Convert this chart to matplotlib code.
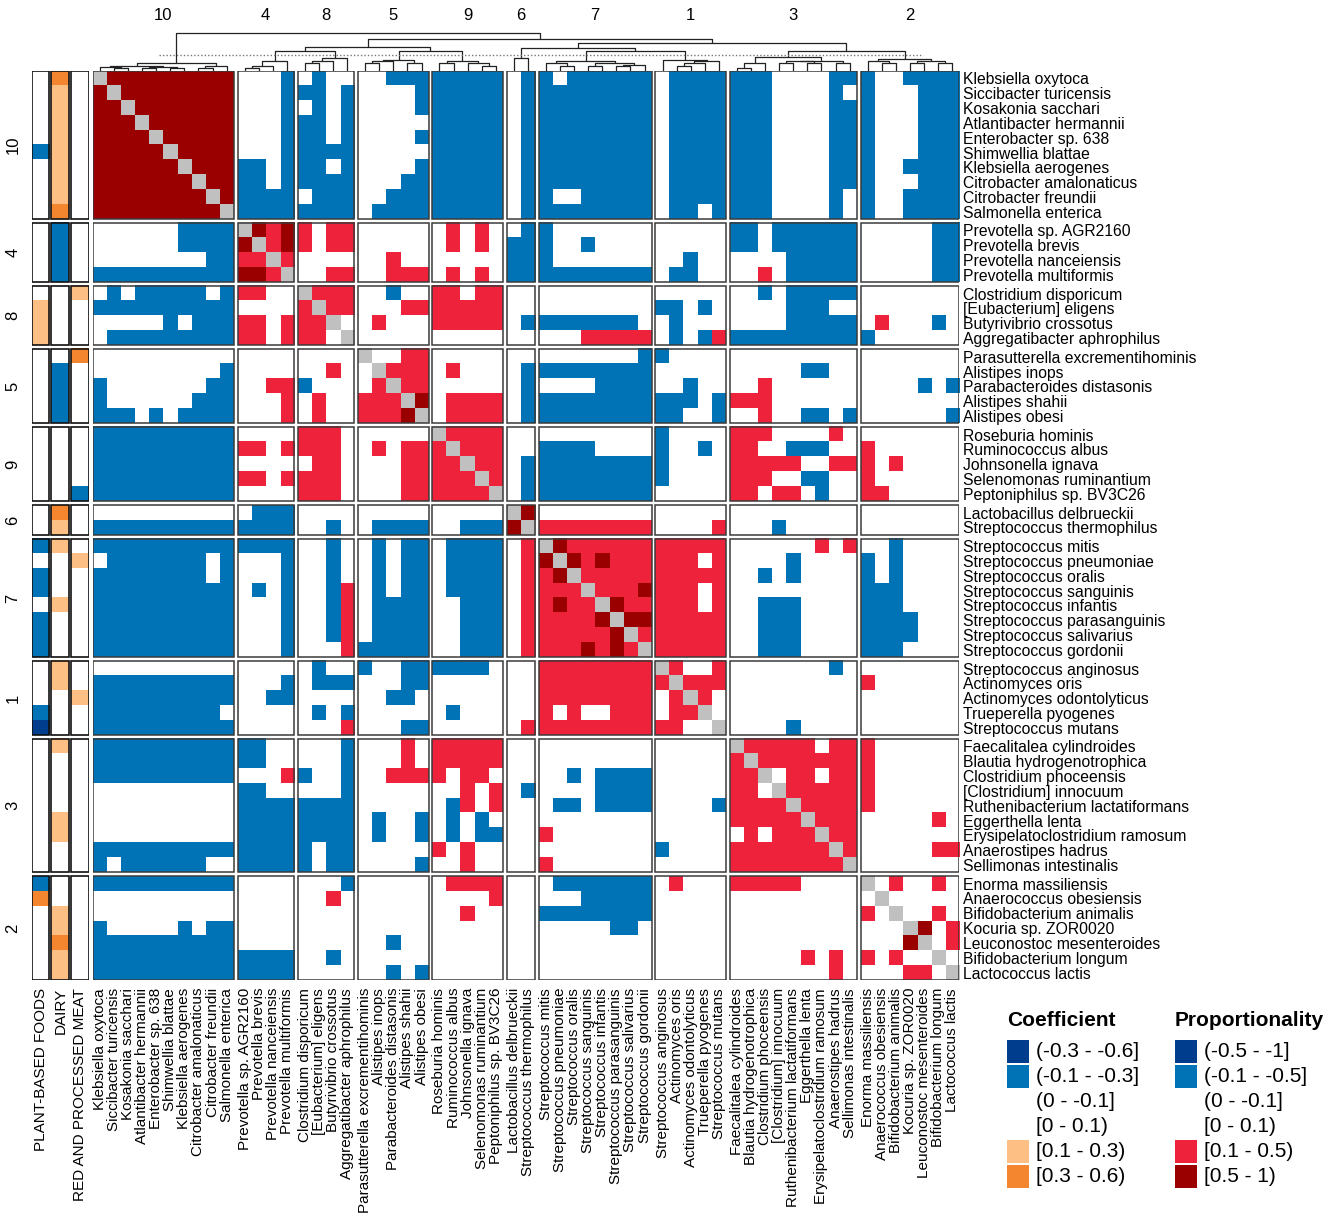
import numpy as np
import matplotlib
matplotlib.use('Agg')
import matplotlib.pyplot as plt
import matplotlib.colors as mcolors
import matplotlib.transforms as mtransforms
from matplotlib.patches import Rectangle

plt.rcParams['font.family'] = ['Liberation Sans', 'DejaVu Sans']

# ---- data -------------------------------------------------------------
cluster_names = ['10', '4', '8', '5', '9', '6', '7', '1', '3', '2']

species = [
    ['Klebsiella oxytoca', 'Siccibacter turicensis', 'Kosakonia sacchari',
     'Atlantibacter hermannii', 'Enterobacter sp. 638', 'Shimwellia blattae',
     'Klebsiella aerogenes', 'Citrobacter amalonaticus', 'Citrobacter freundii',
     'Salmonella enterica'],
    ['Prevotella sp. AGR2160', 'Prevotella brevis', 'Prevotella nanceiensis',
     'Prevotella multiformis'],
    ['Clostridium disporicum', '[Eubacterium] eligens', 'Butyrivibrio crossotus',
     'Aggregatibacter aphrophilus'],
    ['Parasutterella excrementihominis', 'Alistipes inops',
     'Parabacteroides distasonis', 'Alistipes shahii', 'Alistipes obesi'],
    ['Roseburia hominis', 'Ruminococcus albus', 'Johnsonella ignava',
     'Selenomonas ruminantium', 'Peptoniphilus sp. BV3C26'],
    ['Lactobacillus delbrueckii', 'Streptococcus thermophilus'],
    ['Streptococcus mitis', 'Streptococcus pneumoniae', 'Streptococcus oralis',
     'Streptococcus sanguinis', 'Streptococcus infantis',
     'Streptococcus parasanguinis', 'Streptococcus salivarius',
     'Streptococcus gordonii'],
    ['Streptococcus anginosus', 'Actinomyces oris', 'Actinomyces odontolyticus',
     'Trueperella pyogenes', 'Streptococcus mutans'],
    ['Faecalitalea cylindroides', 'Blautia hydrogenotrophica',
     'Clostridium phoceensis', '[Clostridium] innocuum',
     'Ruthenibacterium lactatiformans', 'Eggerthella lenta',
     'Erysipelatoclostridium ramosum', 'Anaerostipes hadrus',
     'Sellimonas intestinalis'],
    ['Enorma massiliensis', 'Anaerococcus obesiensis', 'Bifidobacterium animalis',
     'Kocuria sp. ZOR0020', 'Leuconostoc mesenteroides', 'Bifidobacterium longum',
     'Lactococcus lactis'],
]

# proportionality classes: . (0 - 0.1)  b (-0.1 - -0.5]  B (-0.5 - -1]
#                          r [0.1 - 0.5)  R [0.5 - 1)  g self
prop_rows = [
    "gRRRRRRRRR ...b .b.. ..bbb bbbbb .b b.bbbbbb .bbbb bbb....bb b..bbbb",
    "RgRRRRRRRR ...b bb.b ....b bbbbb .b bbbbbbbb .bbbb bbb....b. b...bbb",
    "RRgRRRRRRR ...b .b.b ....b bbbbb .b bbbbbbbb .bbbb bbb....bb b...bbb",
    "RRRgRRRRRR ...b bb.b ..... bbbbb .b bbbbbbbb .bbbb bbb....bb b...bbb",
    "RRRRgRRRRR ...b bb.b ....b bbbbb .b bbbbbbbb .bbbb bbb....bb b...bbb",
    "RRRRRgRRRR ...b bbbb ..... bbbbb .b bbbbbbbb .bbbb bbb....bb b...bbb",
    "RRRRRRgRRR bb.b bb.b ....b bbbbb .b bbbbbbbb .bbbb bbb....bb b..bbbb",
    "RRRRRRRgRR bb.b bbbb ...bb bbbbb .b bbbbbbbb .bbbb bbb....bb b...bbb",
    "RRRRRRRRgR bbbb .bbb ..bbb bbbbb .b b..bbbbb .bbbb bbb....b. b..bbbb",
    "RRRRRRRRRg bbbb bbbb .bbbb bbbbb .b bbbbbbbb .bb.b bbb....b. b..bbbb",
    "......bbbb gRrR r.rr ..... .r.r. .b b....... ..... bb.bbbbbb .....bb",
    "......bbbb RgrR r.rr ..... .r.r. bb b..b.... ..... bb.bbbbbb .....bb",
    "........bb rrgr .... ..r.. ..... bb b....... ..b.. ....bbbbb .....bb",
    "bbbbbbbbbb RRrg ..rr ..rrr .r.r. bb bbbbbbbb .bb.. ..r.bbbbb .....bb",
    ".b.bbbbb.b rr.. grrr ..b.. rr.rr .. ........ ..... ..b.bbbbb .......",
    "bbbbbbbbbb .... rgrr ...rr rrrrr .. ........ bb.b. ....bbb.. .......",
    ".....b.bbb rr.r rrg. .r... rrrrr .b bbbbbbb. .b... ....bbbbb .r...b.",
    ".bbbbbbbbb rr.r rr.g ..... ..... .. ...rrrrr .b.br bbbbbbbbb b......",
    ".......... .... .... g..rr ..... .. .......b b.... ......... .......",
    ".........b .... ..r. .grrr .r... .b bbbbbbbb ..... .....bb.. .......",
    "b.......bb ..rr b... .rgrr ..... .b ....bbbb ..b.. ..r...... ....b.b",
    "b......bbb ...r .r.. rrrgR .rrrr .b bbbbbbbb bbb.b rrr...... .......",
    "bbb.b.bbbb ...r .r.. rrrRg .rrrr .b bbbbbbbb bb..b ..r..bb.b ......b",
    "bbbbbbbbbb .... rrr. ..... grrrr .. ........ b.... rrr....r. .......",
    "bbbbbbbbbb rr.r rrr. .r.rr rgrrr .. bbbb.... b..b. rr..bbb.. r......",
    "bbbbbbbbbb .... .rr. ...rr rrgrr .b bbbbbbbb b.... rrrrr..rr r.r....",
    "bbbbbbbbbb rr.r rrr. ...rr rrrgr .b bbbbbbbb b.... rrr..bb.. r......",
    "bbbbbbbbbb .... rrr. ...rr rrrrg .b bbbbbbbb ..... rr.rr.b.. rr.....",
    ".......... .bbb .... ..... ..... gR ........ ..... ......... .......",
    "bbbbbbbbbb bbbb ..b. .bbbb ..bbb Rg rrrrrrrr ....r ...b..... .......",
    "bbbbbbbbbb bbbb ..b. .b.bb .bbbb .r gRrrrrrr rrrrr ......r.r ..b....",
    ".bbbbbbb.b ...b ..b. .b.bb .bbbb .r RgRrRrrr rrr.r ....b.... b.b....",
    "bbbbbbbb.b ...b ..b. .b.bb .bbbb .r rRgrrrrr rrrrr ..b.b.... b.b....",
    "bbbbbbbbbb .b.b ..br .b.bb .bbbb .r rrrgrrrR rrr.r ......... bbb....",
    "bbbbbbbbbb ...b ..br .bbbb ..bbb .r rRrrgRrr rrr.r ..bbb.... bbb....",
    "bbbbbbbbbb ...b ..br .bbbb ..bbb .r rrrrRgRR rrrrr ..bbb.... bbbb...",
    "bbbbbbbbbb ...b ..br .bbbb ..bbb .r rrrrrRgr rrrrr ..bbb.... bbbb...",
    "bbbbbbbbbb ...b ...r bbbbb ..bbb .r rrrRrRrg rrrrr ..bbb.... bbb....",
    ".......... .... .b.. b..bb bbbb. .. rrrrrrrr gr..r .......b. .......",
    "bbbbbbbbbb ...b .bbb ...bb ..... .. rrrrrrrr rgrrr ......... r......",
    "bbbbbbbbbb ..bb .... ..bb. ..... .. rrrrrrrr .rgr. ......... .......",
    "bbbbbbbbb. .... .b.b ..... .b... .. r.r..rrr .rrg. ......... .......",
    "bbbbbbbbbb .... ...r ...bb ..... .r rrrrrrrr rr..g ....b.... .......",
    "bbbbbbbbbb bb.. ...b ...r. rrrrr .. ........ ..... grrrrr.rr r......",
    "bbbbbbbbbb bb.. ...b ...r. rrrrr .. ........ ..... rgrrrrrrr r......",
    "bbbbbbbbbb ...r b..b ..rrr r.rr. .. ..b.bbbb ..... rrg.rr.rr r......",
    ".......... bb.. ...b ..... ..r.r .b ....bbbb ..... rr.grrrrr r......",
    ".......... bbbb bbbb ..... .br.r .. .bb.bbbb ....b rrrrgrrrr r......",
    ".......... bbbb bbbb .b..b .b.b. .. ........ ..... rrrrrgrrr .....r.",
    ".......... bbbb bbbb .b..b .b.bb .. r....... ..... .r.rrrgrr .......",
    "bbbbbbbbbb bbbb b.bb ..... r.r.. .. ........ b.... rrrrrrrgr .....rr",
    "b.bbbbbb.. bbbb b.bb ....b ..r.. .. r....... ..... rrrrrrrrg .......",
    "bbbbbbbbbb .... ...b ..... .rrrr .. .bbbbbbb .r... rrrrr.... g.r..r.",
    ".......... .... ..r. ..... ....r .. ...bbbbb ..... ......... .g.....",
    ".......... .... .... ..... ..r.. .. bbbbbbbb ..... ......... r.g..r.",
    "b.....b.bb .... .... ..... ..... .. .....bb. ..... ......... ...gR.r",
    "bbbbbbbbbb .... .... ..b.. ..... .. ........ ..... ......... ...Rg.r",
    "bbbbbbbbbb bbbb ..b. ..... ..... .. ........ ..... .....r.r. r.r..g.",
    "bbbbbbbbbb bbbb .... ..b.b ..... .. ........ ..... .......r. ...rr.g",
]

# diet coefficients: . (-0.1 - 0.1)  b (-0.1 - -0.3]  B (-0.3 - -0.6]
#                    o [0.1 - 0.3)  O [0.3 - 0.6)
annot_names = ['PLANT-BASED FOODS', 'DAIRY', 'RED AND PROCESSED MEAT']
annot_plant = ".....b.... .... .ooo ..... ..... .. b.bb.bbb ...bB ......... bO....."
annot_dairy = "OooooooooO bbbb .... .bbbb ..... Oo o...o... oo... o....oo.. ..ooOoo"
annot_meat = ".......... .... o... O.... ....b .. .o...... ..o.. ......... ......."

# dendrogram: [height, left, right], leaves are species indices
sub_trees = {
    '10': [7.7, [5.5, [4, 0, [3, 1, 2]], [4, [3, 3, 4], [3, 5, 6]]], [5.5, [3.5, 7, 8], 9]],
    '4': [10, [5.3, [3, 10, 11], 12], 13],
    '8': [13.3, [10, [7.7, 14, 15], 16], 17],
    '5': [11, [10, [7.7, 18, 19], 20], [7.7, 21, 22]],
    '9': [10, [7.7, 23, 24], [8.5, 25, [5.3, 26, 27]]],
    '6': [13, 28, 29],
    '7': [10, [7.7, 30, [5.3, 31, 32]], [7.7, [5.3, 33, 34], [6, [5.3, 35, 36], 37]]],
    '1': [11, 38, [10, [7.7, [5.3, 39, 40], 41], 42]],
    '3': [13.7, [7.7, [3, 43, 44], 45], [10.5, [10, [7.7, 46, 47], [7.7, 48, 49]], [7.7, 50, 51]]],
    '2': [12, [10, 52, [7.7, 53, 54]], [10, [7.7, 55, 56], [7.7, 57, 58]]],
}
top_tree = [38, '10', [32, [24.3, [20, '4', '8'], [20, '5', '9']],
                       [28, [23, '6', [20, '7', '1']], [20, '3', '2']]]]
cut_height = 16
cut_span = (4.7, 58.9)

coef_labels = ['(-0.3 - -0.6]', '(-0.1 - -0.3]', '(0 - -0.1]', '[0 - 0.1)',
               '[0.1 - 0.3)', '[0.3 - 0.6)']
prop_labels = ['(-0.5 - -1]', '(-0.1 - -0.5]', '(0 - -0.1]', '[0 - 0.1)',
               '[0.1 - 0.5)', '[0.5 - 1)']

# ---- colours ----------------------------------------------------------
colors = {'.': '#FFFFFF', 'b': '#0072B6', 'B': '#003D8C', 'r': '#EE233B',
          'R': '#9A0000', 'g': '#C0C0C0', 'o': '#FDBF84', 'O': '#F3862F'}
coef_keys = ['B', 'b', '.', '.', 'o', 'O']
prop_keys = ['B', 'b', '.', '.', 'r', 'R']

# ---- layout -----------------------------------------------------------
W, H = 1342, 1218
gx, gy = 0.274, 0.26
lab_size = 11.3
bot_size = 11


def frect(x0, y0, x1, y1):
    return [x0 / W, 1 - y1 / H, (x1 - x0) / W, (y1 - y0) / H]


sizes = [len(s) for s in species]
starts = np.concatenate([[0], np.cumsum(sizes)[:-1]])
names = [n for grp in species for n in grp]
member = np.repeat(np.arange(len(sizes)), sizes)
n = len(names)

mat = [r.replace(' ', '') for r in prop_rows]
ann = [a.replace(' ', '') for a in (annot_plant, annot_dairy, annot_meat)]


def to_rgb(codes):
    return np.array([[mcolors.to_rgb(colors[c]) for c in row] for row in codes])


fig = plt.figure(figsize=(W / 100, H / 100), dpi=100)
ax = fig.add_axes(frect(92.7, 71, 959.3, 980))
ax_a = fig.add_axes(frect(31.7, 71, 89, 980), sharey=ax)
ax_d = fig.add_axes(frect(92.7, 0, 959.3, 71), sharex=ax)

xpos = np.arange(n) + gx * member
ypos = np.arange(n) + gy * member

for i, (si, ni) in enumerate(zip(starts, sizes)):
    y0 = si + gy * i
    for j, (sj, nj) in enumerate(zip(starts, sizes)):
        x0 = sj + gx * j
        block = [mat[r][sj:sj + nj] for r in range(si, si + ni)]
        ax.imshow(to_rgb(block), extent=(x0, x0 + nj, y0 + ni, y0),
                  interpolation='nearest', aspect='auto')
        ax.add_patch(Rectangle((x0, y0), nj, ni, fill=False,
                               edgecolor='#3a3a3a', lw=1.1))
    for k in range(3):
        xa = k * 1.11
        col = [[ann[k][r]] for r in range(si, si + ni)]
        ax_a.imshow(to_rgb(col), extent=(xa, xa + 1, y0 + ni, y0),
                    interpolation='nearest', aspect='auto')
        ax_a.add_patch(Rectangle((xa, y0), 1, ni, fill=False,
                                 edgecolor='#111111', lw=1.2))

ax.set_xlim(0, n + gx * (len(sizes) - 1))
ax.set_ylim(n + gy * (len(sizes) - 1), 0)
ax_a.set_xlim(0, 3 + 2 * 0.11)
for a in (ax, ax_a, ax_d):
    a.set_axis_off()

# labels
tr_right = mtransforms.blended_transform_factory(fig.transFigure, ax.transData)
tr_bottom = mtransforms.blended_transform_factory(ax.transData, fig.transFigure)
tr_bottom_a = mtransforms.blended_transform_factory(ax_a.transData, fig.transFigure)
for k, name in enumerate(names):
    ax.text(963 / W, ypos[k] + 0.5, name, transform=tr_right, ha='left',
            va='center_baseline', fontsize=lab_size, clip_on=False)
    ax.text(xpos[k] + 0.5, 1 - 988 / H, name, transform=tr_bottom, ha='center',
            va='top', rotation=90, fontsize=bot_size, clip_on=False)
for k, name in enumerate(annot_names):
    ax_a.text(k * 1.11 + 0.5, 1 - 988 / H, name, transform=tr_bottom_a,
              ha='center', va='top', rotation=90, fontsize=bot_size, clip_on=False)
for i, (si, ni) in enumerate(zip(starts, sizes)):
    ax.text(13 / W, si + gy * i + ni / 2, cluster_names[i], transform=tr_right,
            ha='center', va='center', rotation=90, fontsize=12, clip_on=False)

# dendrogram
dcol = '#222222'


def draw(node):
    if isinstance(node, str):
        return draw(sub_trees[node])
    if isinstance(node, (int, np.integer)):
        return xpos[node] + 0.5, 0.0
    h, left, right = node
    xl, hl = draw(left)
    xr, hr = draw(right)
    ax_d.plot([xl, xl, xr, xr], [hl, h, h, hr], color=dcol, lw=0.9,
              solid_capstyle='butt')
    return (xl + xr) / 2, h


draw(top_tree)
ax_d.plot(cut_span, [cut_height, cut_height], color='#777777', lw=1.0,
          ls=(0, (1, 1.5)))
ax_d.set_ylim(0, 71)
for i, (si, ni) in enumerate(zip(starts, sizes)):
    ax_d.text(si + gx * i + ni / 2, 56, cluster_names[i], ha='center',
              va='center', fontsize=12)

# legend
ax_l = fig.add_axes(frect(995, 995, 1342, 1218))
ax_l.set_xlim(995, 1342)
ax_l.set_ylim(1218, 995)
ax_l.set_axis_off()
for x0, title, labels, keys in [(1007, 'Coefficient', coef_labels, coef_keys),
                                (1175, 'Proportionality', prop_labels, prop_keys)]:
    ax_l.text(x0, 1020, title, fontsize=15, fontweight='bold', ha='left',
              va='center')
    for k, (lab, key) in enumerate(zip(labels, keys)):
        yc = 1051.7 + 25 * k
        ax_l.add_patch(Rectangle((x0, yc - 11.5), 22, 23, facecolor=colors[key],
                                 edgecolor='none'))
        ax_l.text(x0 + 29.5, yc, lab, fontsize=15, ha='left', va='center')

fig.savefig('out.png', dpi=100)
